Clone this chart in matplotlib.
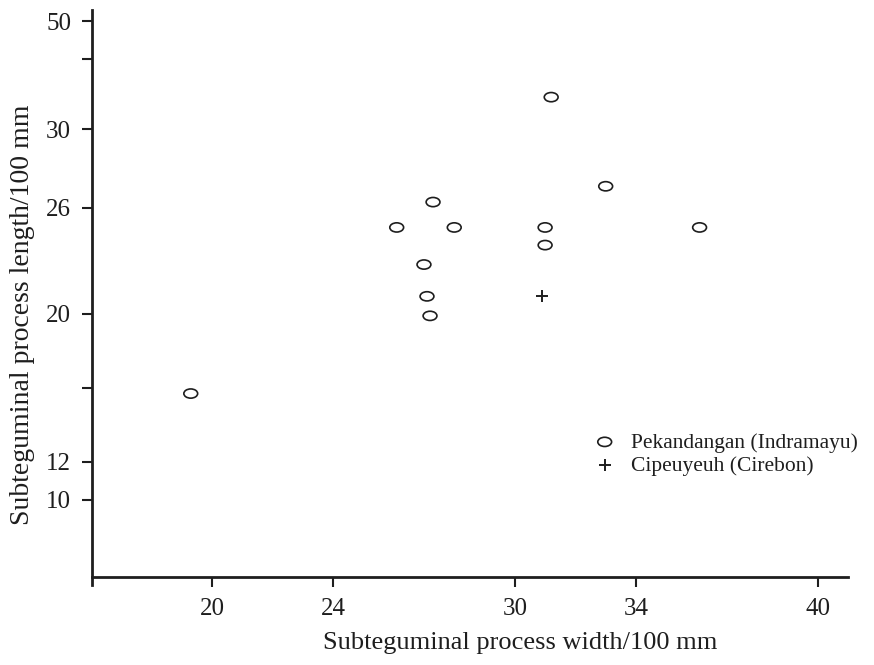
"""
Subteguminal process length vs width, two populations.
"""

import numpy as np
import matplotlib
matplotlib.use("Agg")
import matplotlib.pyplot as plt
from matplotlib.markers import MarkerStyle
from matplotlib.transforms import Affine2D

# Pekandangan (Indramayu)
pek_width = [19.3, 26.1, 27.3, 28.0, 27.0, 27.1, 27.2, 31.0, 31.0, 31.2, 33.0, 36.1]
pek_length = [15.7, 24.9, 26.3, 24.9, 22.8, 21.0, 19.9, 24.9, 23.9, 35.9, 27.1, 24.9]

# Cipeuyeuh (Cirebon)
cip_width = [30.9]
cip_length = [21.0]

x_ticks = [20, 24, 30, 34, 40]
y_ticks = [10, 12, 16, 20, 26, 30, 43, 50]
y_ticklabels = ["10", "12", "", "20", "26", "30", "", "50"]

# the printed y axis is not evenly spaced: piecewise scale through the labelled ticks
scale_vals = [5.5, 10, 12, 20, 26, 30, 50, 51.4]
scale_pos = [0, 85, 123, 271, 377, 456, 564, 575]


def fwd(v):
    return np.interp(v, scale_vals, scale_pos)


def inv(p):
    return np.interp(p, scale_pos, scale_vals)


plt.rcParams["font.family"] = ["Liberation Serif", "DejaVu Serif"]
ink = "#1e1e1e"

fig = plt.figure(figsize=(8.74, 6.65), dpi=100)
ax = fig.add_axes([92 / 874, 80 / 665, 756 / 874, 575 / 665])
ax.set_yscale("function", functions=(fwd, inv))

ellipse = MarkerStyle("o", transform=Affine2D().scale(1.5, 1.0))
ax.scatter(pek_width, pek_length, marker=ellipse, s=44, facecolors="none",
           edgecolors=ink, linewidths=1.2, label="Pekandangan (Indramayu)")
ax.scatter(cip_width, cip_length, marker="+", s=64, color=ink,
           linewidths=1.4, label="Cipeuyeuh (Cirebon)")

ax.set_xlim(16.04, 41.0)
ax.set_ylim(5.5, 51.4)

for s in ["top", "right"]:
    ax.spines[s].set_visible(False)
ax.spines["left"].set_linewidth(2.0)
ax.spines["bottom"].set_linewidth(2.0)
ax.spines["left"].set_color(ink)
ax.spines["bottom"].set_color(ink)
ax.spines["bottom"].set_position(("axes", 8 / 575))

ax.set_xticks(x_ticks)
ax.set_xticklabels([str(t) for t in x_ticks])
ax.set_yticks(y_ticks)
ax.set_yticklabels(y_ticklabels)
ax.minorticks_off()
ax.tick_params(axis="both", direction="out", length=7, width=1.5, color=ink,
               labelsize=18, labelcolor=ink)
ax.tick_params(axis="x", pad=8)
ax.tick_params(axis="y", pad=8)

ax.set_xlabel("Subteguminal process width/100 mm", fontsize=19, color=ink)
ax.set_ylabel("Subteguminal process length/100 mm", fontsize=20, color=ink)
ax.xaxis.set_label_coords(0.566, -0.081)
ax.yaxis.set_label_coords(-0.075, 0.47)

ax.legend(loc="upper left", bbox_to_anchor=(0.644, 0.284), frameon=False,
          fontsize=15.5, handletextpad=0.5, handlelength=1.4, labelspacing=0.15,
          borderpad=0, labelcolor=ink)

fig.savefig("out.png", dpi=100)
